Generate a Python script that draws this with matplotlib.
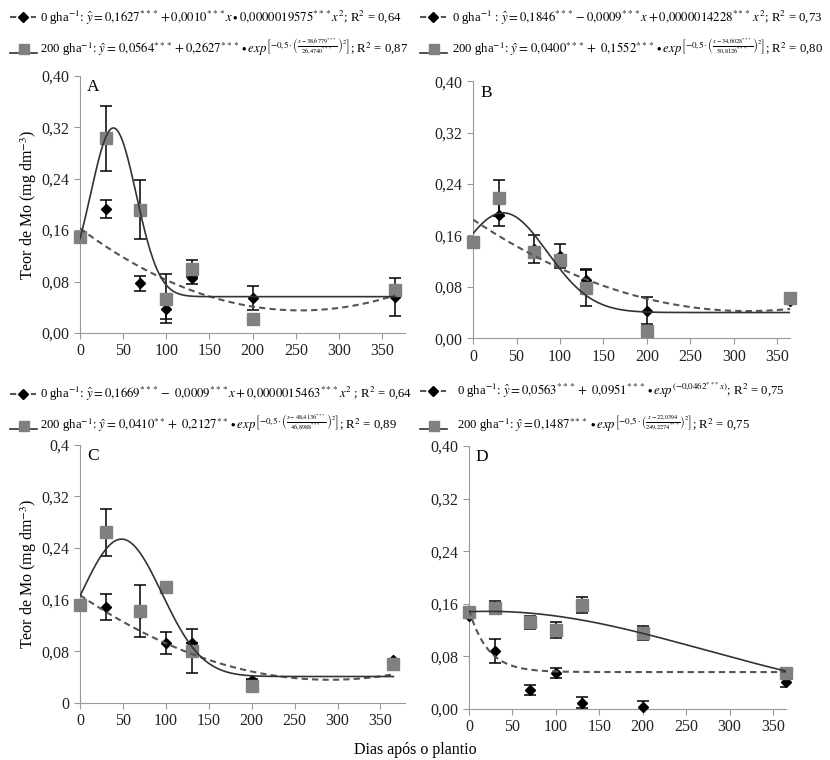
import numpy as np
import matplotlib
matplotlib.use("Agg")
from matplotlib import pyplot as plt
from matplotlib.lines import Line2D

plt.rcParams["font.family"] = ["Liberation Serif", "DejaVu Serif"]
plt.rcParams["mathtext.fontset"] = "stix"

days = [0, 30, 70, 100, 130, 200, 365]

# panel A
sq_a = [0.149, 0.303, 0.192, 0.053, 0.100, 0.021, 0.066]
sq_a_err = [0.0, 0.051, 0.046, 0.038, 0.013, 0.0, 0.0]
dm_a = [0.150, 0.193, 0.077, 0.037, 0.086, 0.054, 0.056]
dm_a_err = [0.0, 0.014, 0.012, 0.016, 0.010, 0.019, 0.030]

# panel B
sq_b = [0.150, 0.219, 0.134, 0.121, 0.078, 0.011, 0.062]
sq_b_err = [0.0, 0.028, 0.0, 0.0, 0.028, 0.0, 0.0]
dm_b = [0.150, 0.192, 0.139, 0.128, 0.090, 0.043, 0.058]
dm_b_err = [0.0, 0.018, 0.022, 0.018, 0.017, 0.021, 0.0]

# panel C
sq_c = [0.151, 0.264, 0.142, 0.180, 0.080, 0.027, 0.061]
sq_c_err = [0.0, 0.037, 0.040, 0.0, 0.034, 0.010, 0.0]
dm_c = [0.150, 0.149, 0.140, 0.093, 0.093, 0.036, 0.067]
dm_c_err = [0.0, 0.020, 0.0, 0.017, 0.0, 0.0, 0.0]

# panel D
sq_d = [0.147, 0.154, 0.132, 0.120, 0.158, 0.116, 0.055]
sq_d_err = [0.0, 0.010, 0.010, 0.012, 0.012, 0.011, 0.0]
dm_d = [0.142, 0.088, 0.029, 0.055, 0.010, 0.003, 0.041]
dm_d_err = [0.0, 0.018, 0.007, 0.008, 0.009, 0.009, 0.008]

# regression coefficients shown in the legends
quad_a = [0.1627, -0.0010, 0.0000019575]
gauss_a = [0.0564, 0.2627, 38.6779, 26.4740]
quad_b = [0.1846, -0.0009, 0.0000014228]
gauss_b = [0.0400, 0.1552, 34.6028, 50.8126]
quad_c = [0.1669, -0.0009, 0.0000015463]
gauss_c = [0.0410, 0.2127, 48.4136, 46.8988]
expo_d = [0.0563, 0.0951, 0.0462]
gauss_d = [0.0, 0.1487, 22.0394, 249.2274]

leg_a = [
    r"0 gha$^{-1}$: $\hat{y}=0{,}1627^{***}+0{,}0010^{***}x\bullet 0{,}0000019575^{***}x^2$; R$^2$ = 0,64",
    r"200 gha$^{-1}$: $\hat{y}=\,0{,}0564^{***}+0{,}2627^{***}\bullet exp^{\left[-0{,}5\cdot\left(\frac{x-38{,}6779^{***}}{26{,}4740^{***}}\right)^2\right]}$; R$^2$ = 0,87",
]
leg_b = [
    r"0 gha$^{-1}$ : $\hat{y}=0{,}1846^{***}-0{,}0009^{***}x+0{,}0000014228^{***}\,x^2$; R$^2$ = 0,73",
    r"200 gha$^{-1}$: $\hat{y}=\,0{,}0400^{***}+\ 0{,}1552^{***}\bullet exp^{\left[-0{,}5\cdot\left(\frac{x-34{,}6028^{***}}{50{,}8126^{***}}\right)^2\right]}$; R$^2$ = 0,80",
]
leg_c = [
    r"0 gha$^{-1}$: $\hat{y}=0{,}1669^{***}-\ 0{,}0009^{***}x+0{,}0000015463^{***}x^2$ ; R$^2$ = 0,64",
    r"200 gha$^{-1}$: $\hat{y}=\,0{,}0410^{**}+\ 0{,}2127^{**}\bullet exp^{\left[-0{,}5\cdot\left(\frac{x-48{,}4136^{***}}{46{,}8988^{***}}\right)^2\right]}$; R$^2$ = 0,89",
]
leg_d = [
    r"0 gha$^{-1}$: $\hat{y}=0{,}0563^{***}+\ 0{,}0951^{***}\bullet exp^{(-0{,}0462^{***}x)}$; R$^2$ = 0,75",
    r"200 gha$^{-1}$: $\hat{y}=0{,}1487^{***}\bullet exp^{\left[-0{,}5\cdot\left(\frac{x-22{,}0394}{249{,}2274^{***}}\right)^2\right]}$; R$^2$ = 0,75",
]

yticks = [0, 0.08, 0.16, 0.24, 0.32, 0.40]
ylabels_std = ["0,00", "0,08", "0,16", "0,24", "0,32", "0,40"]
ylabels_c = ["0", "0,08", "0,16", "0,24", "0,32", "0,4"]

xs = np.linspace(0, 365, 400)


def quad(c):
    return c[0] + c[1] * xs + c[2] * xs ** 2


def gauss(c):
    return c[0] + c[1] * np.exp(-0.5 * ((xs - c[2]) / c[3]) ** 2)


def expo(c):
    return c[0] + c[1] * np.exp(-c[2] * xs)


fig = plt.figure(figsize=(8.3, 7.6), dpi=100)

panels = [
    ("A", [0.0964, 0.562, 0.392, 0.338], 377, sq_a, sq_a_err, dm_a, dm_a_err, quad(quad_a), gauss(gauss_a), ylabels_std, True),
    ("B", [0.570, 0.555, 0.382, 0.338], 365, sq_b, sq_b_err, dm_b, dm_b_err, quad(quad_b), gauss(gauss_b), ylabels_std, False),
    ("C", [0.0964, 0.075, 0.392, 0.340], 379, sq_c, sq_c_err, dm_c, dm_c_err, quad(quad_c), gauss(gauss_c), ylabels_c, True),
    ("D", [0.565, 0.067, 0.382, 0.346], 365, sq_d, sq_d_err, dm_d, dm_d_err, expo(expo_d), gauss(gauss_d), ylabels_std, False),
]

for name, pos, xmax, sq, sq_err, dm, dm_err, dashed, solid, ylabs, ylab in panels:
    ax = fig.add_axes(pos)
    ax.errorbar(days, dm, yerr=dm_err, fmt="none", ecolor="black", elinewidth=1.1, capsize=4, capthick=1.1, zorder=2)
    ax.errorbar(days, sq, yerr=sq_err, fmt="none", ecolor="black", elinewidth=1.1, capsize=4, capthick=1.1, zorder=2)
    ax.plot(days, dm, "D", color="black", ms=5.5, zorder=3, clip_on=False)
    ax.plot(days, sq, "s", color="#808080", ms=8, zorder=3, clip_on=False)
    ax.plot(xs, dashed, color="#555555", lw=1.5, ls=(0, (3, 2)), zorder=4)
    ax.plot(xs, solid, color="#333333", lw=1.2, zorder=4)
    ax.set_xlim(0, xmax)
    ax.set_ylim(0, 0.40)
    ax.set_xticks(range(0, 351, 50))
    ax.set_yticks(yticks)
    ax.set_yticklabels(ylabs)
    for s in ["top", "right"]:
        ax.spines[s].set_visible(False)
    for s in ["left", "bottom"]:
        ax.spines[s].set_color("#999999")
    ax.tick_params(colors="#999999", labelcolor="#222222", labelsize=11.5, length=4)
    ax.text(8, 0.395, name, fontsize=12.5, va="top", ha="left")
    if ylab:
        ax.set_ylabel("Teor de Mo (mg dm$^{-3}$)", fontsize=11.5, labelpad=2)

fig.text(0.5, 0.002, "Dias após o plantio", ha="center", va="bottom", fontsize=11.5)

legends = [
    (leg_a, 0.012, 0.048, 0.977, 0.938),
    (leg_b, 0.506, 0.545, 0.977, 0.938),
    (leg_c, 0.012, 0.048, 0.482, 0.443),
    (leg_d, 0.506, 0.550, 0.486, 0.443),
]
for lines, x_line, x_text, y1, y2 in legends:
    fig.add_artist(Line2D([x_line, x_line + 0.031], [y1, y1], transform=fig.transFigure,
                          color="#555555", lw=1.5, ls=(0, (3, 2))))
    fig.add_artist(Line2D([x_line + 0.0155], [y1], transform=fig.transFigure, marker="D",
                          color="black", ms=5, ls="none"))
    fig.add_artist(Line2D([x_line, x_line + 0.033], [y2 - 0.008, y2 - 0.008], transform=fig.transFigure,
                          color="#333333", lw=1.2))
    fig.add_artist(Line2D([x_line + 0.0165], [y2 - 0.003], transform=fig.transFigure, marker="s",
                          color="#808080", ms=7, ls="none"))
    fig.text(x_text, y1, lines[0], fontsize=9.2, va="center", ha="left")
    fig.text(x_text, y2, lines[1], fontsize=9.2, va="center", ha="left")

fig.savefig("out.png", dpi=100)
